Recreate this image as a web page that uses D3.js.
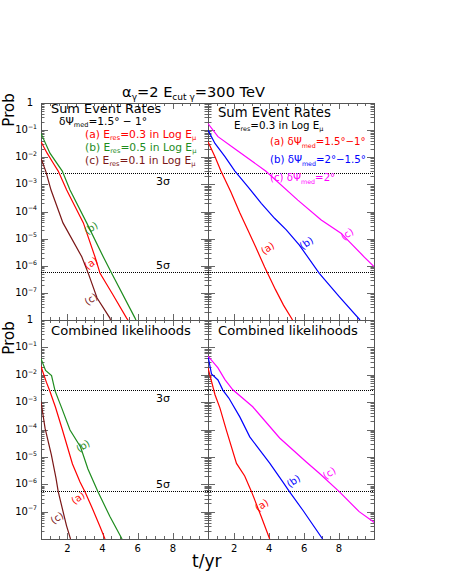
<!DOCTYPE html>
<html><head><meta charset="utf-8">
<script src="https://cdn.jsdelivr.net/npm/d3@7"></script>
<style>body{margin:0;background:#fff}svg{display:block}text{font-family:"DejaVu Sans",sans-serif}</style>
</head><body><svg id="c" width="449" height="581"></svg>
<script>
// ---------- data (t in yr, log10 of probability) ----------
const tDomain = [0.5, 10];
const yTickExponents = [0, -1, -2, -3, -4, -5, -6, -7];
const xTickLabels = [2, 4, 6, 8];
const sigma3 = 2.7e-3, sigma5 = 5.7e-7;

// Sum event rates, dPsi_med = 1.5-1 deg, varying E_res
const sumEres03 = [[0.5,-1.43],[0.84,-1.84],[1.20,-2.22],[1.48,-2.51],[1.96,-3.21],[2.91,-4.42],[3.57,-5.67],[3.86,-6.28],[4.60,-7.08],[5.37,-7.93],[5.45,-8.0]];
const sumEres05 = [[0.5,-1.12],[1.01,-1.85],[1.71,-2.51],[2.15,-3.21],[3.10,-4.42],[4.04,-5.67],[4.52,-6.28],[5.85,-7.93],[5.9,-8.0]];
const sumEres01 = [[0.5,-2.04],[0.77,-2.51],[1.07,-3.21],[1.75,-4.42],[2.82,-5.67],[3.19,-6.28],[3.69,-7.19],[4.42,-7.93],[4.45,-8.0]];
// Sum event rates, E_res = 0.3, varying dPsi_med
const sumPsi15 = [[0.5,-1.43],[0.90,-1.98],[1.24,-2.51],[1.81,-3.28],[2.32,-4.05],[2.78,-4.68],[3.23,-5.31],[3.74,-6.05],[3.91,-6.28],[4.37,-6.89],[4.82,-7.45],[5.34,-8.0]];
const sumPsi2 = [[0.5,-1.0],[0.90,-1.49],[1.47,-1.98],[2.04,-2.51],[2.79,-3.09],[3.55,-3.70],[4.31,-4.25],[4.98,-4.68],[5.73,-5.24],[6.87,-6.28],[8.01,-7.14],[9.20,-8.0]];
const sumPsi2plus = [[0.5,-0.76],[1.07,-1.24],[2.13,-1.73],[3.80,-2.51],[5.64,-3.58],[6.98,-4.31],[8.11,-4.80],[9.43,-5.67],[10,-6.03]];
// Combined likelihoods, dPsi_med = 1.5-1 deg, varying E_res
const likEres03 = [[0.5,-1.70],[0.81,-2.28],[0.98,-2.56],[1.32,-3.18],[1.72,-4.02],[2.29,-5.26],[2.72,-5.92],[3.0,-6.27],[3.38,-6.82],[3.86,-7.55],[4.14,-8.0]];
const likEres05 = [[0.5,-1.41],[0.76,-1.84],[1.10,-2.03],[1.30,-2.59],[1.67,-3.20],[2.15,-4.02],[2.75,-4.64],[3.17,-5.44],[3.74,-6.27],[4.42,-7.18],[5.11,-8.0]];
const likEres01 = [[0.5,-2.98],[0.73,-3.95],[1.09,-4.93],[1.35,-5.77],[1.48,-6.27],[1.69,-6.83],[1.95,-7.51],[2.18,-8.0]];
// Combined likelihoods, E_res = 0.3, varying dPsi_med
const likPsi15 = [[0.5,-1.75],[0.90,-2.73],[1.18,-3.21],[1.55,-4.02],[2.13,-5.24],[2.60,-5.70],[2.99,-6.27],[3.55,-7.19],[4.03,-8.0]];
const likPsi2 = [[0.5,-1.32],[0.70,-1.97],[1.07,-2.19],[1.35,-2.56],[1.69,-2.85],[2.32,-3.54],[2.89,-4.27],[4.03,-5.23],[4.78,-5.91],[5.16,-6.27],[5.92,-6.94],[7.06,-8.0]];
const likPsi2plus = [[0.5,-1.32],[1.07,-1.75],[1.47,-2.18],[1.92,-2.55],[3.06,-3.17],[4.60,-4.31],[6.11,-5.18],[6.87,-5.60],[8.01,-6.27],[9.15,-7.0],[9.94,-7.36],[10,-7.4]];

// curve label anchor points (t, log10 P)
const labelsTL = [["b",3.34,-4.61],["a",3.34,-5.90],["c",3.34,-7.23]];
const labelsTR = [["a",3.91,-5.35],["b",6.13,-5.16],["c",8.46,-4.83]];
const labelsBL = [["b",2.89,-4.60],["a",2.60,-6.50],["c",1.41,-7.23]];
const labelsBR = [["a",3.57,-6.76],["b",5.39,-5.88],["c",7.44,-5.59]];

// ---------- drawing ----------
const RED="#ff0000", GREEN="#1e8c1e", BROWN="#7a1616", BLUE="#0000ff", MAG="#ff00ff";
const svg = d3.select("#c");
const colX = [[41,208],[208,374]];
const rowY = [[103,320],[320,539]];

function rich(g, x, y, parts, size, color, anchor, subShift){
  const t = g.append("text").attr("x",x).attr("y",y).attr("font-size",size).attr("fill",color||"#000");
  if(anchor) t.attr("text-anchor",anchor);
  let shift = 0;
  const ss = subShift===undefined ? 0.25 : subShift;
  parts.forEach(p=>{
    const target = p.sub ? size*ss : (p.sup ? -size*0.42 : 0);
    const ts = t.append("tspan").text(p.t).attr("dy", target-shift);
    if(p.sub||p.sup) ts.attr("font-size", size*0.62);
    shift = target;
  });
  return t;
}

const panels = [
  {c:0,r:0, series:[[sumEres03,RED],[sumEres05,GREEN],[sumEres01,BROWN]], labels:labelsTL, colors:{a:RED,b:GREEN,c:BROWN}, sig:true},
  {c:1,r:0, series:[[sumPsi15,RED],[sumPsi2,BLUE],[sumPsi2plus,MAG]], labels:labelsTR, colors:{a:RED,b:BLUE,c:MAG}, sig:false},
  {c:0,r:1, series:[[likEres03,RED],[likEres05,GREEN],[likEres01,BROWN]], labels:labelsBL, colors:{a:RED,b:GREEN,c:BROWN}, sig:true},
  {c:1,r:1, series:[[likPsi15,RED],[likPsi2,BLUE],[likPsi2plus,MAG]], labels:labelsBR, colors:{a:RED,b:BLUE,c:MAG}, sig:false}
];

panels.forEach((P,i)=>{
  const [x0,x1] = colX[P.c], [y0,y1] = rowY[P.r];
  const x = d3.scaleLinear().domain(tDomain).range([x0,x1]);
  const y = d3.scaleLog().domain([1e-8,1]).range([y1,y0]);
  const g = svg.append("g");
  const cid = "clip"+i;
  svg.append("clipPath").attr("id",cid).append("rect").attr("x",x0).attr("y",y0).attr("width",x1-x0).attr("height",y1-y0);

  // ticks
  const tk = g.append("g").attr("stroke","#666").attr("stroke-width",1);
  for(let e=-8;e<=0;e++){
    for(let m=1;m<10;m++){
      const v = m*Math.pow(10,e); if(v>1) break;
      const yy = Math.round(y(v))+0.5, L = m===1?7:3.5;
      tk.append("line").attr("x1",x0).attr("x2",x0+L).attr("y1",yy).attr("y2",yy);
      tk.append("line").attr("x1",x1).attr("x2",x1-L).attr("y1",yy).attr("y2",yy);
    }
  }
  for(let t=1;t<=9.5;t+=0.5){
    const xx = Math.round(x(t))+0.5, L = (t%2===0)?6:3;
    tk.append("line").attr("x1",xx).attr("x2",xx).attr("y1",y1).attr("y2",y1-L);
    tk.append("line").attr("x1",xx).attr("x2",xx).attr("y1",y0).attr("y2",y0+L);
  }
  g.append("rect").attr("x",x0+0.5).attr("y",y0+0.5).attr("width",x1-x0).attr("height",y1-y0)
    .attr("fill","none").attr("stroke","#555").attr("stroke-width",1);

  // sigma lines
  [sigma3,sigma5].forEach(s=>{
    const yy = Math.round(y(s))+0.5;
    g.append("line").attr("x1",x0).attr("x2",x1).attr("y1",yy).attr("y2",yy)
      .attr("stroke","#000").attr("stroke-width",1).attr("stroke-dasharray","1,1");
  });
  if(P.sig){
    g.append("text").attr("x",x0+115).attr("y",y(sigma3)+12).attr("font-size",11).text("3σ");
    g.append("text").attr("x",x0+115).attr("y",y(sigma5)-3).attr("font-size",11).text("5σ");
  }

  // curves
  const line = d3.line().x(d=>x(d[0])).y(d=>y(Math.pow(10,d[1])));
  P.series.forEach(([data,col])=>{
    g.append("path").attr("d",line(data)).attr("fill","none").attr("stroke",col)
      .attr("stroke-width",1.2).attr("clip-path",`url(#${cid})`);
  });
  P.labels.forEach(([l,t,lp])=>{
    g.append("text").attr("transform",`translate(${x(t)},${y(Math.pow(10,lp))}) rotate(-35)`)
      .attr("text-anchor","middle").attr("dy","0.35em").attr("font-size",10).attr("fill",P.colors[l]).text(`(${l})`);
  });

  // y tick labels
  if(P.c===0){
    yTickExponents.forEach(e=>{
      const yy = y(Math.pow(10,e));
      if(e===0){ g.append("text").attr("x",33).attr("y",yy+3).attr("font-size",10).attr("text-anchor","end").text("1"); }
      else rich(g,37,yy+3,[{t:"10"},{t:"−"+(-e),sup:true}],10,"#000","end");
    });
  }
  if(P.r===1){
    xTickLabels.forEach(v=>{
      g.append("text").attr("x",x(v)).attr("y",y1+13).attr("font-size",10).attr("text-anchor","middle").text(v);
    });
  }
});

// panel texts
rich(svg,51,112.5,[{t:"Sum Event Rates"}],12.9);
rich(svg,59,125,[{t:"δΨ"},{t:"med",sub:true},{t:"=1.5° − 1°"}],10.6,"#000",null,0.18);
rich(svg,85,137.5,[{t:"(a) E"},{t:"res",sub:true},{t:"=0.3 in Log E"},{t:"μ",sub:true}],10.7,RED);
rich(svg,85,150.5,[{t:"(b) E"},{t:"res",sub:true},{t:"=0.5 in Log E"},{t:"μ",sub:true}],10.7,GREEN);
rich(svg,85,163.5,[{t:"(c) E"},{t:"res",sub:true},{t:"=0.1 in Log E"},{t:"μ",sub:true}],10.7,BROWN);

rich(svg,218,116.5,[{t:"Sum Event Rates"}],13.2);
rich(svg,234,128.5,[{t:"E"},{t:"res",sub:true},{t:"=0.3 in Log E"},{t:"μ",sub:true}],10.3);
rich(svg,270,145,[{t:"(a) δΨ"},{t:"med",sub:true},{t:"=1.5°−1°"}],10.2,RED);
rich(svg,270,163,[{t:"(b) δΨ"},{t:"med",sub:true},{t:"=2°−1.5°"}],10.2,BLUE);
rich(svg,270,181,[{t:"(c) δΨ"},{t:"med",sub:true},{t:"=2°"}],10.2,MAG);

rich(svg,51,335,[{t:"Combined likelihoods"}],13.1);
rich(svg,218,335,[{t:"Combined likelihoods"}],13.1);

// title and axis titles
rich(svg,122,97,[{t:"α"},{t:"γ",sub:true},{t:"=2 E"},{t:"cut γ",sub:true},{t:"=300 TeV"}],14.6,"#000",null,0.2);
svg.append("text").attr("transform","translate(14,110) rotate(-90)").attr("text-anchor","middle").attr("font-size",15).text("Prob");
svg.append("text").attr("transform","translate(14,338) rotate(-90)").attr("text-anchor","middle").attr("font-size",15).text("Prob");
svg.append("text").attr("x",192).attr("y",567).attr("font-size",17).text("t/yr");
</script></body></html>
